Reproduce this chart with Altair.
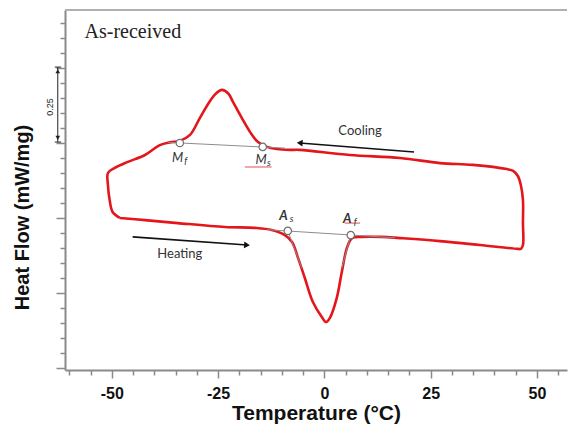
import altair as alt
import pandas as pd

# DSC loop: heating branch (left -> right), right end, cooling branch (right -> left), left end
loop_T = [-48.1, -42.2, -34.5, -23.4, -16.4, -12.4, -9.3, -7.6, -6.2, -4.6, -2.7, -0.6, 0.4, 1.3,
          2.9, 4.1, 5.3, 6.5, 8.8, 13.5, 17.8, 27.2, 36.6, 45.5, 46.2,
          46.7, 46.7, 46.7, 46.2, 45.5, 44.4,
          42.9, 34.9, 27.2, 17.8, 6.0, -5.8, -8.1, -11.2, -13.5, -15.6, -17.5, -19.4, -21.5,
          -22.6, -24.1, -25.5, -26.9, -29.3, -31.6, -34.0, -36.4, -38.7, -42.2, -46.2, -49.3, -50.9,
          -50.9, -50.5, -49.8, -48.1]
loop_HF = [0.000, -0.007, -0.017, -0.030, -0.033, -0.040, -0.057, -0.080, -0.133, -0.200, -0.280,
           -0.330, -0.347, -0.333, -0.267, -0.180, -0.100, -0.067, -0.063, -0.063, -0.067, -0.077,
           -0.090, -0.103, -0.103,
           -0.090, -0.017, 0.060, 0.110, 0.140, 0.157,
           0.163, 0.177, 0.183, 0.200, 0.210, 0.227, 0.227, 0.230, 0.237, 0.253, 0.287, 0.333,
           0.387, 0.415, 0.427, 0.415, 0.390, 0.333, 0.277, 0.257, 0.252, 0.243, 0.210, 0.187,
           0.167, 0.150,
           0.110, 0.060, 0.020, 0.000]

# baselines and tangent construction lines
seg_T1 = [-36.8, -13.5, -8.6, 6.2]
seg_HF1 = [0.252, -0.039, -0.043, -0.057]
seg_T2 = [-9.3, 16.6, -5.3, 4.1]
seg_HF2 = [0.233, -0.066, -0.167, -0.167]

# transformation points Mf, Ms, As, Af
pt_T = [-34.0, -14.5, -8.6, 6.2]
pt_HF = [0.250, 0.237, -0.043, -0.057]

lab_main = ["M", "M", "A", "A"]
lab_sub = ["f", "s", "s", "f"]
lab_T = [-34.5, -14.9, -9.6, 5.4]
lab_HF = [0.200, 0.193, 0.005, -0.002]

# red spell-check underlines under Ms and Af
ul_T1 = [-18.7, 4.8]
ul_T2 = [-12.4, 8.4]
ul_HF = [0.170, -0.017]

# direction arrows (tail -> head)
arr_names = ["Cooling", "Heating"]
arr_T1 = [21.1, -45.1]
arr_HF1 = [0.220, -0.063]
arr_T2 = [-5.8, -18.2]
arr_HF2 = [0.250, -0.090]
arr_text_T = [8.4, -34.0]
arr_text_HF = [0.290, -0.120]

# scale bar (0.25 mW/mg)
bar_T = -62.7
bar_HF1 = 0.503
bar_HF2 = 0.253

x_ticks = [-60, -55, -50, -45, -40, -35, -30, -25, -20, -15, -10, -5, 0, 5, 10, 15, 20, 25, 30,
           35, 40, 45, 50, 55]
y_ticks = [-0.5, -0.45, -0.4, -0.35, -0.3, -0.25, -0.2, -0.15, -0.1, -0.05, 0.0, 0.05, 0.1,
           0.15, 0.2, 0.25, 0.3, 0.35, 0.4, 0.45, 0.5, 0.55, 0.6, 0.65]

X_DOMAIN = [-61, 57.06]
Y_DOMAIN = [-0.5067, 0.6933]
W, H = 502, 360

AX = "#8a8a8a"
FONT = "Liberation Sans"

xs = alt.Scale(domain=X_DOMAIN, nice=False, zero=False)
ys = alt.Scale(domain=Y_DOMAIN, nice=False, zero=False)

x_axis = alt.Axis(
    title="Temperature (°C)", values=x_ticks,
    labelExpr="datum.value % 25 === 0 ? '' + datum.value : ''",
    tickSize={"condition": {"test": "datum.value % 25 === 0", "value": 8}, "value": 5},
    labelOverlap=False, labelFlush=False, grid=False,
    domainColor=AX, domainWidth=2, tickColor=AX, tickWidth=1.5,
    labelFont=FONT, labelFontSize=16, labelFontWeight="bold", labelColor="#111",
    labelPadding=7, titleFont=FONT, titleFontSize=21, titleFontWeight="bold",
    titleColor="#111", titlePadding=1,
)
y_axis = alt.Axis(
    title="Heat Flow (mW/mg)", values=y_ticks, labels=False, grid=False,
    tickSize={"condition": {"test": "abs(datum.value*4 - round(datum.value*4)) < 0.001", "value": 9}, "value": 5},
    domainColor=AX, domainWidth=2, tickColor=AX, tickWidth=1.5,
    titleFont=FONT, titleFontSize=20, titleFontWeight="bold", titleColor="#111",
    titleAngle=270, titleX=-43, titleY=207, titleAlign="center", titleBaseline="middle",
)

loop_df = pd.DataFrame({"T": loop_T, "HF": loop_HF, "i": list(range(len(loop_T)))})
seg_df = pd.DataFrame({"T": seg_T1, "HF": seg_HF1, "T2": seg_T2, "HF2": seg_HF2})
pt_df = pd.DataFrame({"T": pt_T, "HF": pt_HF})
lab_df = pd.DataFrame({"T": lab_T, "HF": lab_HF, "main": lab_main, "sub": lab_sub})
ul_df = pd.DataFrame({"T": ul_T1, "T2": ul_T2, "HF": ul_HF})
arr_df = pd.DataFrame({"name": arr_names, "T": arr_T1, "HF": arr_HF1, "T2": arr_T2, "HF2": arr_HF2,
                       "tx": arr_text_T, "ty": arr_text_HF})
bar_df = pd.DataFrame({"T": [bar_T], "HF": [bar_HF1], "HF2": [bar_HF2]})
cap_df = pd.DataFrame({"T": [bar_T - 0.7, bar_T - 0.7], "T2": [bar_T + 0.8, bar_T + 0.8],
                       "HF": [bar_HF1, bar_HF2]})
head_df = pd.DataFrame({"T": [bar_T, bar_T], "HF": [bar_HF1 - 0.014, bar_HF2 + 0.014],
                        "shape": ["triangle-up", "triangle-down"]})


def X(field="T"):
    return alt.X(f"{field}:Q", scale=xs, axis=x_axis)


def Y(field="HF"):
    return alt.Y(f"{field}:Q", scale=ys, axis=y_axis)


base_frame = alt.Chart(pd.DataFrame({"k": [0]})).mark_rule(color="#b0b0b0", strokeWidth=2).encode(
    x=alt.value(0), x2=alt.value(W), y=alt.value(0))

loop = alt.Chart(loop_df).mark_line(color="#e4161c", strokeWidth=2.6, interpolate="catmull-rom").encode(
    x=X(), y=Y(), order=alt.Order("i:Q"))

segs = alt.Chart(seg_df).mark_rule(color="#8c8c8c", strokeWidth=1).encode(
    x=X(), y=Y(), x2="T2:Q", y2="HF2:Q")

pts = alt.Chart(pt_df).mark_point(shape="circle", size=55, filled=True, fill="white",
                                  stroke="#707070", strokeWidth=1.2, opacity=1).encode(x=X(), y=Y())

lab_m = alt.Chart(lab_df).transform_filter("datum.main === 'M'").mark_text(
    font="Lato", fontSize=13, color="#333", fontStyle="italic").encode(x=X(), y=Y(), text="main:N")
lab_a = alt.Chart(lab_df).transform_filter("datum.main === 'A'").mark_text(
    font="Lato", fontSize=13, color="#333", fontStyle="italic", fontWeight="bold").encode(
    x=X(), y=Y(), text="main:N")
lab_sub_l = alt.Chart(lab_df).mark_text(font="Lato", fontSize=9.5, color="#333", dx=8, dy=3,
                                        fontStyle="italic").encode(x=X(), y=Y(), text="sub:N")
ul = alt.Chart(ul_df).mark_rule(color="#e05050", strokeWidth=1).encode(x=X(), x2="T2:Q", y=Y())

arr_lines = alt.Chart(arr_df).mark_rule(color="#111", strokeWidth=1.6).encode(
    x=X(), y=Y(), x2="T2:Q", y2="HF2:Q")
arr_heads = alt.Chart(arr_df).mark_point(filled=True, color="#111", size=45, opacity=1).encode(
    x=X("T2"), y=Y("HF2"),
    shape=alt.Shape("name:N", scale=alt.Scale(domain=arr_names, range=["triangle-left", "triangle-right"]),
                    legend=None),
    angle=alt.value(4))
arr_text = alt.Chart(arr_df).mark_text(font="Lato", fontSize=13, color="#333").encode(
    x=X("tx"), y=Y("ty"), text="name:N")

bar = alt.Chart(bar_df).mark_rule(color="#222", strokeWidth=1).encode(x=X(), y=Y(), y2="HF2:Q")
caps = alt.Chart(cap_df).mark_rule(color="#222", strokeWidth=1).encode(x=X(), x2="T2:Q", y=Y())
heads = alt.Chart(head_df).mark_point(filled=True, color="#222", size=22, opacity=1).encode(
    x=X(), y=Y(), shape=alt.Shape("shape:N", scale=None, legend=None))
bar_text = alt.Chart(pd.DataFrame({"T": [bar_T - 1.9], "HF": [0.37], "t": ["0.25"]})).mark_text(
    font=FONT, fontSize=9, color="#222", angle=270).encode(x=X(), y=Y(), text="t:N")

title_txt = alt.Chart(pd.DataFrame({"T": [-56.4], "HF": [0.62], "t": ["As-received"]})).mark_text(
    font="Liberation Serif", fontSize=20, color="#222", align="left").encode(x=X(), y=Y(), text="t:N")

chart = alt.layer(
    loop, base_frame, segs, ul, pts, lab_m, lab_a, lab_sub_l, arr_lines, arr_heads, arr_text,
    bar, caps, heads, bar_text, title_txt
).properties(
    width=W, height=H, background="white",
    padding={"left": 57, "top": 2, "right": 2, "bottom": 58},
    autosize=alt.AutoSizeParams(type="none"),
).configure_view(stroke=None)

chart.save("out.html", embed_options={"renderer": "svg", "actions": False})
